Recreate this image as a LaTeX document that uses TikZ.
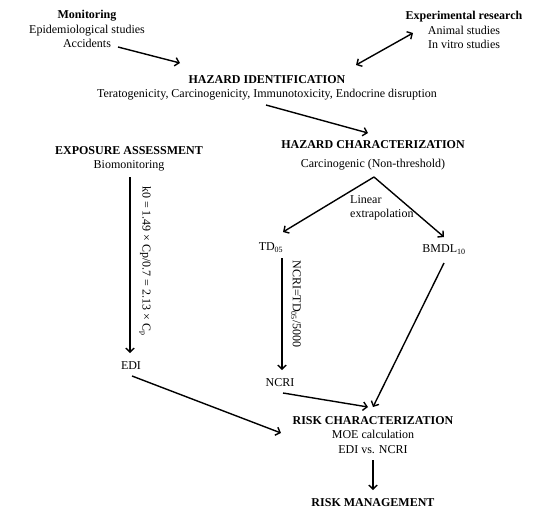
\documentclass[tikz,border=0pt]{standalone}
\usepackage{fontspec}
\setmainfont{Liberation Serif}
\usetikzlibrary{arrows.meta}

\begin{document}
\begin{tikzpicture}[x=1pt, y=-1pt, >={Straight Barb[length=4pt,width=8.5pt]},
  every node/.style={align=center, inner sep=0pt, font=\fontsize{12pt}{14.5pt}\selectfont},
  arr/.style={->, line width=1.4pt},
  formula/.style={rotate=-90}]
\useasboundingbox (0,0) rectangle (550,520);

\node (mon) at (87,29) {\textbf{Monitoring}\\Epidemiological studies\\Accidents};
\node (exp) at (464,30) {\textbf{Experimental research}\\Animal studies\\In vitro studies};
\node (hi) at (267,88) {\textbf{HAZARD IDENTIFICATION}\\Teratogenicity, Carcinogenicity, Immunotoxicity, Endocrine disruption};
\node (ea) at (129,159) {\textbf{EXPOSURE ASSESSMENT}\\Biomonitoring};
\node (hc) at (373,155) {\textbf{HAZARD CHARACTERIZATION}\\[4.5pt]Carcinogenic (Non-threshold)};
\node (lin) [align=left, anchor=west] at (350,208) {Linear\\extrapolation};
\node (td) at (271,248) {TD\textsubscript{05}};
\node (bmdl) at (444,250) {BMDL\textsubscript{10}};
\node (edi) at (131,366) {EDI};
\node (ncri) at (280,383) {NCRI};
\node (rc) at (373,435) {\textbf{RISK CHARACTERIZATION}\\MOE calculation\\EDI vs. NCRI};
\node (rm) at (373,503) {\textbf{RISK MANAGEMENT}};
\node (k0) [formula] at (145,261) {k0 = 1.49 × Cp/0.7 = 2.13 × C\textsubscript{p}};
\node (ncrif) [formula] at (296,304) {NCRI=TD\textsubscript{05}/5000};

\draw[arr] ([shift={(31,18)}]mon.center) -- ([shift={(-87,-25)}]hi.center);
\draw[arr, <->] ([shift={(-51,3)}]exp.center) -- ([shift={(89,-23)}]hi.center);
\draw[arr] ([shift={(-1,17)}]hi.center) -- ([shift={(-5,-22)}]hc.center);
\draw[arr] ([shift={(1,22)}]hc.center) -- ([shift={(12,-16)}]td.center);
\draw[arr] ([shift={(1,22)}]hc.center) -- ([shift={(0,-13)}]bmdl.center);
\draw[arr] ([shift={(1,18)}]ea.center) -- ([shift={(-1,-13)}]edi.center);
\draw[arr] ([shift={(11,10)}]td.center) -- ([shift={(2,-13)}]ncri.center);
\draw[arr] ([shift={(1,10)}]edi.center) -- ([shift={(-92,-2)}]rc.center);
\draw[arr] ([shift={(3,10)}]ncri.center) -- ([shift={(-5,-28)}]rc.center);
\draw[arr] ([shift={(0,13)}]bmdl.center) -- ([shift={(0,-28)}]rc.center);
\draw[arr] ([shift={(0,25)}]rc.center) -- ([shift={(0,-13)}]rm.center);
\end{tikzpicture}
\end{document}
